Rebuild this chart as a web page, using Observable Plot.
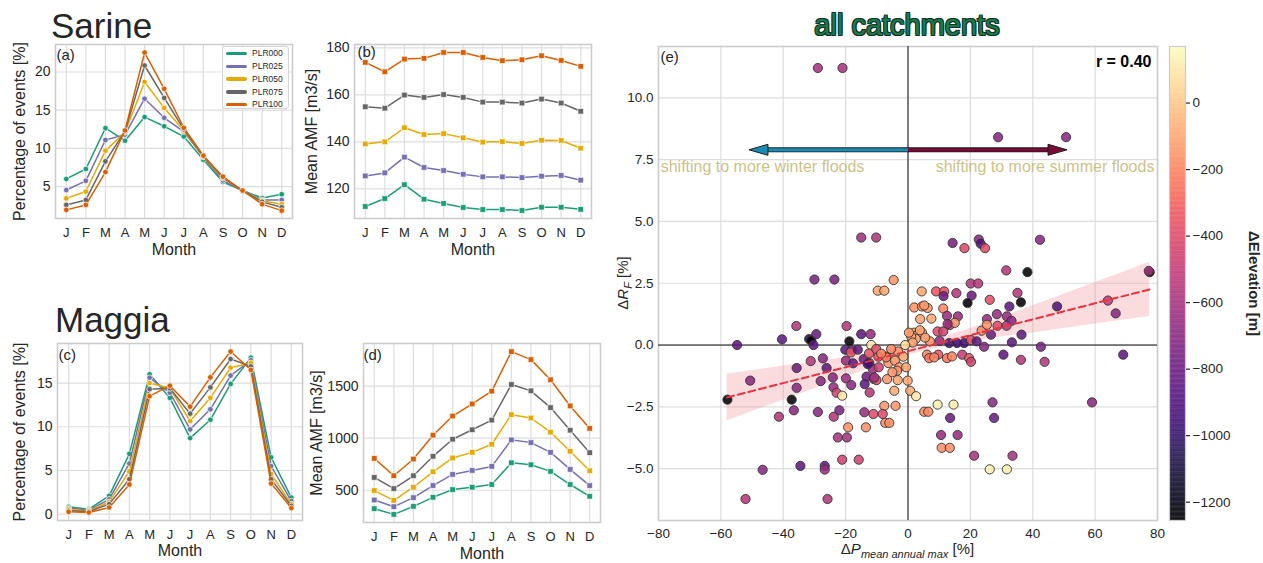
<!DOCTYPE html>
<html><head><meta charset="utf-8">
<script src="https://cdn.jsdelivr.net/npm/d3@7"></script>
<script src="https://cdn.jsdelivr.net/npm/@observablehq/plot@0.6"></script>
<style>
body{margin:0;background:#fff;}
#wrap{position:relative;width:1263px;height:563px;overflow:hidden;font-family:"Liberation Sans",Arial,sans-serif;color:#262626;background:#fff;}
#wrap svg{overflow:visible;}
</style></head><body><div id="wrap"></div>
<script>
// ---------- data ----------
const monthLetters = ["J","F","M","A","M","J","J","A","S","O","N","D"];
const monthIndex = [1,2,3,4,5,6,7,8,9,10,11,12];
const seriesNames = ["PLR000","PLR025","PLR050","PLR075","PLR100"];
const seriesColors = ["#1b9e77","#7570b3","#e6ab02","#666666","#d95f02"];

// (a) Sarine: percentage of events
const sarinePct000 = [6.0, 7.3, 12.65, 11.0, 14.1, 12.9, 11.55, 8.5, 5.6, 4.48, 3.5, 4.0];
const sarinePct025 = [4.55, 5.75, 11.1, 11.8, 16.5, 14.0, 12.2, 8.85, 5.8, 4.48, 3.25, 3.25];
const sarinePct050 = [3.45, 4.35, 9.7, 12.1, 18.7, 15.3, 12.35, 8.95, 6.1, 4.48, 3.15, 2.7];
const sarinePct075 = [2.6, 3.25, 8.3, 12.25, 20.85, 16.6, 12.5, 9.0, 6.2, 4.48, 3.0, 2.3];
const sarinePct100 = [1.95, 2.6, 6.9, 12.35, 22.55, 17.8, 12.7, 9.05, 6.3, 4.48, 2.7, 1.85];

// (b) Sarine: mean AMF
const sarineAmf000 = [112.5, 115.9, 121.8, 115.6, 113.8, 112.1, 111.2, 111.2, 110.8, 112.2, 112.2, 111.3];
const sarineAmf025 = [125.5, 126.8, 133.5, 129.1, 127.8, 126.2, 125.1, 125.1, 124.8, 125.4, 125.7, 123.7];
const sarineAmf050 = [139.1, 140.0, 146.0, 143.1, 143.5, 141.7, 139.9, 140.1, 139.3, 140.7, 140.6, 137.3];
const sarineAmf075 = [154.9, 154.3, 159.9, 158.9, 160.1, 158.9, 156.9, 156.9, 156.5, 158.2, 156.5, 153.0];
const sarineAmf100 = [173.8, 169.8, 175.2, 175.5, 178.0, 178.0, 175.9, 174.5, 174.9, 176.6, 174.6, 172.1];

// (c) Maggia: percentage of events
const maggiaPct000 = [0.85, 0.58, 2.1, 6.9, 16.0, 13.3, 8.7, 10.8, 14.9, 17.9, 6.5, 1.9];
const maggiaPct025 = [0.7, 0.46, 1.7, 5.8, 15.6, 13.9, 9.7, 12.0, 15.85, 17.6, 5.5, 1.5];
const maggiaPct050 = [0.58, 0.38, 1.4, 4.9, 15.0, 14.4, 10.65, 13.3, 16.75, 17.3, 4.6, 1.15];
const maggiaPct075 = [0.4, 0.3, 1.15, 4.0, 14.3, 14.4, 11.5, 14.5, 17.75, 16.9, 4.0, 0.95];
const maggiaPct100 = [0.27, 0.2, 0.77, 3.4, 13.5, 14.7, 12.3, 15.65, 18.6, 16.5, 3.5, 0.7];

// (d) Maggia: mean AMF
const maggiaAmf000 = [323, 268, 345, 432, 506, 529, 555, 764, 745, 681, 555, 442];
const maggiaAmf025 = [406, 342, 429, 545, 652, 690, 729, 984, 958, 864, 700, 545];
const maggiaAmf050 = [497, 403, 529, 677, 810, 864, 942, 1226, 1194, 1058, 874, 687];
const maggiaAmf075 = [623, 516, 639, 826, 990, 1081, 1174, 1516, 1455, 1294, 1077, 861];
const maggiaAmf100 = [806, 639, 800, 1029, 1213, 1329, 1452, 1832, 1755, 1561, 1310, 1094];

// (e) all catchments scatter: ΔP mean annual max [%], ΔR_F [%], ΔElevation [m]
const scatterDP = [
 -28.9,-21.0,28.9,50.7,-15.0,-10.2,14.3,18.1,22.7,23.3,24.7,42.3,-30.0,-23.6,-4.6,-9.7,-7.6,4.4,9.0,11.6,
 11.4,15.5,20.1,22.5,20.4,19.1,26.2,35.1,36.2,31.5,38.3,77.5,77.2,64.1,66.6,47.8,32.5,69.0,59.0,
 2.0,4.5,6.3,5.2,3.9,7.5,11.3,12.5,16.0,13.4,15.0,12.7,9.5,11.3,10.1,7.0,13.2,15.7,18.0,20.2,
 22.0,24.4,23.6,25.3,25.3,28.5,28.7,31.7,33.2,31.6,26.6,36.4,33.3,42.6,43.8,36.2,30.6,
 2.0,3.2,4.5,2.5,1.0,0.3,5.5,3.8,1.5,-0.9,-11.8,
 6.1,6.8,9.7,12.5,14.1,17.4,19.6,20.2,8.4,-0.1,0.7,2.6,9.5,14.6,5.2,6.5,13.5,27.1,27.6,10.6,
 15.9,10.8,13.4,21.2,33.5,26.2,31.7,
 -54.8,-50.6,-57.9,-35.8,-40.4,-31.7,-31.0,-29.4,-30.3,-31.2,
 -27.3,-35.7,-26.1,-35.7,-28.0,-24.1,-23.9,-22.9,-37.3,-36.6,
 -41.4,-28.9,-23.8,-22.0,-21.1,-19.7,-20.1,-18.0,-18.3,-19.9,
 -17.6,-19.9,-18.2,-15.0,-12.0,-18.8,-16.1,-14.2,-12.5,-12.4,
 -11.3,-13.3,-11.0,-12.3,-13.9,-9.5,-9.4,-10.1,-6.9,-6.3,
 -6.7,-3.2,-1.5,-4.2,-2.8,-3.5,-5.4,-7.0,-0.6,-3.3,
 -4.4,-7.6,-4.0,-7.3,-6.0,-19.2,-13.5,-14.0,-11.1,-8.1,
 -22.5,-19.6,-21.1,-15.8,-34.5,-26.7,-26.7,-46.6,-52.1,-25.8,
 -10.2,-12.9,-10.8,-8.6,-5.0
];
const scatterDRF = [
 11.21,11.21,8.41,8.41,4.35,4.35,4.13,3.92,4.27,4.10,3.92,4.26,2.65,2.65,2.63,2.20,2.20,2.17,2.17,2.17,
 1.98,2.10,2.49,2.49,2.00,1.70,1.83,2.11,1.73,3.02,2.95,2.95,3.00,1.80,1.28,1.56,1.56,-0.39,-2.32,
 1.52,1.56,1.50,1.60,1.05,1.07,1.48,1.18,1.16,0.81,0.90,0.85,0.55,0.55,0.17,0.15,0.08,0.08,0.08,0.20,
 0.15,-0.07,0.58,1.05,0.82,1.25,0.78,1.16,0.98,0.78,0.42,0.42,0.11,-0.07,-0.68,-0.60,-0.39,
 0.50,0.43,0.50,0.25,0.35,0.50,0.30,0.60,0.10,0.00,0.00,
 -0.39,-0.53,-0.39,-0.53,-0.46,-0.39,-0.53,-0.68,-0.50,-1.44,-1.85,-2.07,-2.41,-2.41,-2.70,-2.70,-2.95,-2.32,-2.95,-3.64,
 -3.64,-4.16,-4.16,-4.48,-4.48,-5.03,-5.03,
 0.00,-1.44,-2.21,0.77,0.23,0.24,0.18,0.44,0.00,-0.65,
 -0.54,-0.93,-0.93,-1.73,-1.46,-1.31,-1.71,-1.93,-2.21,-2.64,
 -2.90,-2.71,-2.90,-2.64,-2.05,0.77,-0.19,-0.19,-0.30,-0.63,
 -0.74,-1.35,-1.62,0.44,0.44,0.15,-0.19,-0.57,-0.34,-0.73,
 -0.97,-1.28,-1.37,-1.92,-1.58,-0.47,-0.90,-1.42,-0.47,-0.73,
 -1.38,-0.26,-0.47,-0.63,-0.90,-1.04,-0.16,-0.50,-0.90,-1.42,
 -1.85,-2.46,-2.46,-3.15,-3.15,-3.33,-3.33,-2.72,-2.79,-2.79,
 -3.74,-3.74,-4.64,-4.64,-4.89,-4.89,-5.04,-5.05,-6.23,-6.23,
 -0.16,-0.77,-1.31,-0.35,-1.10
];
const scatterDElev = [
 -600,-600,-700,-700,-620,-580,-750,-400,-700,-900,-400,-700,-750,-750,-150,-100,-100,-100,-350,-350,
 -800,-550,-550,-550,-800,-1250,-380,-550,-1250,-550,-1250,-1250,-600,-500,-700,-900,-850,-850,-700,
 -150,-150,-150,-130,-100,-100,-200,-650,-650,-450,-150,-650,-400,-450,-650,-150,-950,-950,-950,-400,
 -850,-700,-200,-650,-150,-650,-400,-650,-700,-550,-800,-850,-850,-750,-550,-550,-850,
 -100,-80,-100,-80,-100,-120,-120,-100,-100,60,100,
 -200,-250,-350,-250,-200,-500,-350,-450,-200,-100,-100,100,120,120,-180,-180,-820,-700,-800,-650,
 -650,-170,-170,-600,-600,120,120,
 -850,-700,-1250,-550,-850,-1050,-1250,-800,-850,-550,
 -700,-800,-850,-700,-700,-700,-650,-450,-1250,-700,
 -550,-700,-550,-750,100,-550,-850,-800,-350,-650,
 -850,-650,-700,-850,-650,-1250,-850,-800,-350,-900,
 -650,-800,-650,-550,-850,-350,-450,-400,-200,-150,
 -150,-150,-100,-150,-150,-150,-200,-200,-100,-100,
 -100,-150,-150,-170,-170,-160,-160,-650,-400,-400,
 -600,-600,-450,-450,-850,-850,-650,-700,-550,-550,
 -400,-950,-600,-200,-150
];

// regression fit and 95% band
const fitDP = [-58, -40, -20, 0, 20, 40, 60, 77.5];
const fitDRF = [-2.12, -1.54, -0.90, -0.25, 0.40, 1.04, 1.69, 2.25];
const bandLow = [-3.07, -2.23, -1.30, -0.42, 0.13, 0.49, 0.85, 1.15];
const bandHigh = [-1.17, -0.85, -0.50, -0.08, 0.67, 1.59, 2.53, 3.35];
const correlationLabel = "r = 0.40";

// arrows + annotations
const arrowTipDP = [-51, 51];
const arrowBaseDP = [-44.9, 44.9];
const arrowDRF = [7.9, 7.9];
const annotationText = ["shifting to more winter floods", "shifting to more summer floods"];
const annotationDP = [-79.3, 79.0];
const annotationDRF = [7.22, 7.22];

const scatterXTicks = [-80, -60, -40, -20, 0, 20, 40, 60, 80];
const scatterYTicks = [-5, -2.5, 0, 2.5, 5, 7.5, 10];
const elevTicks = [0, -200, -400, -600, -800, -1000, -1200];
const elevDomain = [-1255, 170];

// ---------- helpers ----------
const FONT = "Liberation Sans, Arial, sans-serif";
const TXT = "#262626";
const GRID = "#dddddd";
const wrap = document.getElementById("wrap");
function place(el, left, top) {
  el.style.position = "absolute"; el.style.left = left + "px"; el.style.top = top + "px";
  wrap.appendChild(el);
}
const minus = v => (v < 0 ? "\u2212" : "") + Math.abs(v);
function tidy(arrs) {
  return arrs.flatMap((vals, s) => vals.map((v, i) => ({series: seriesNames[s], month: monthIndex[i], value: v})));
}
function linePanel(o) {
  const seriesMarks = seriesNames.flatMap(s => {
    const d = o.data.filter(r => r.series === s);
    return [
      Plot.line(d, {x: "month", y: "value", stroke: "series", strokeWidth: 1.5}),
      Plot.dot(d, {x: "month", y: "value", fill: "series", stroke: "white", strokeWidth: 0.7, r: o.r, symbol: o.symbol})
    ];
  });
  return Plot.plot({
    width: o.w, height: o.h, marginLeft: o.ml, marginRight: o.mr, marginTop: o.mt, marginBottom: o.mb,
    style: {fontFamily: FONT, fontSize: "13px", color: TXT, background: "transparent", overflow: "visible"},
    x: {domain: [0.45, 12.55]},
    y: {domain: o.yDomain},
    color: {domain: seriesNames, range: seriesColors},
    marks: [
      Plot.gridX(monthIndex, {stroke: GRID, strokeOpacity: 1, strokeWidth: 1.2}),
      Plot.gridY(o.yTicks, {stroke: GRID, strokeOpacity: 1, strokeWidth: 1.2}),
      Plot.frame({stroke: "#cccccc", strokeWidth: 1.6}),
      Plot.axisX(monthIndex, {tickSize: 0, tickPadding: 9, tickFormat: i => monthLetters[i - 1], fontSize: 13, label: null}),
      Plot.axisY(o.yTicks, {tickSize: 0, tickPadding: 5, tickFormat: v => String(v), fontSize: 14, label: null}),
      ...seriesMarks,
      Plot.text([o.tag], {text: d => d, frameAnchor: "top-left", textAnchor: "start", lineAnchor: "middle", dx: o.tagDx, dy: o.tagDy, fontSize: 15, fill: TXT}),
      Plot.text(["Month"], {text: d => d, frameAnchor: "bottom", textAnchor: "middle", lineAnchor: "middle", dy: o.monthDy, fontSize: 16, fill: TXT}),
      Plot.text([o.ylabel], {text: d => d, frameAnchor: "left", textAnchor: "middle", lineAnchor: "middle", dx: o.ylabelDx, rotate: -90, fontSize: 16, fill: TXT})
    ]
  });
}

// ---------- panels (a)-(d) ----------
place(linePanel({
  data: tidy([sarinePct000, sarinePct025, sarinePct050, sarinePct075, sarinePct100]),
  w: 310, h: 262, ml: 55, mr: 18, mt: 44, mb: 44, yDomain: [0.82, 23.6], yTicks: [5, 10, 15, 20],
  r: 2.8, symbol: "circle", tag: "(a)", tagDx: 1, tagDy: 11, monthDy: 31, ylabel: "Percentage of events [%]", ylabelDx: -36
}), 0, 0);

place(linePanel({
  data: tidy([sarineAmf000, sarineAmf025, sarineAmf050, sarineAmf075, sarineAmf100]),
  w: 310, h: 262, ml: 54, mr: 19, mt: 44, mb: 44, yDomain: [107.4, 181.4], yTicks: [120, 140, 160, 180],
  r: 3.2, symbol: "square", tag: "(b)", tagDx: 3, tagDy: 8, monthDy: 31, ylabel: "Mean AMF [m3/s]", ylabelDx: -43
}), 300, 0);

place(linePanel({
  data: tidy([maggiaPct000, maggiaPct025, maggiaPct050, maggiaPct075, maggiaPct100]),
  w: 310, h: 272, ml: 57, mr: 8, mt: 53, mb: 42, yDomain: [-0.72, 19.52], yTicks: [0, 5, 10, 15],
  r: 2.8, symbol: "circle", tag: "(c)", tagDx: 1, tagDy: 12, monthDy: 30, ylabel: "Percentage of events [%]", ylabelDx: -38
}), 0, 290);

place(linePanel({
  data: tidy([maggiaAmf000, maggiaAmf025, maggiaAmf050, maggiaAmf075, maggiaAmf100]),
  w: 310, h: 273, ml: 63, mr: 10, mt: 53, mb: 41, yDomain: [190, 1910], yTicks: [500, 1000, 1500],
  r: 3.2, symbol: "square", tag: "(d)", tagDx: 0, tagDy: 12, monthDy: 31, ylabel: "Mean AMF [m3/s]", ylabelDx: -47
}), 300, 290);

// ---------- panel (e) ----------
const points = scatterDP.map((x, i) => ({x, y: scatterDRF[i], e: scatterDElev[i]}));
const fit = fitDP.map((x, i) => ({x, y: fitDRF[i], lo: bandLow[i], hi: bandHigh[i]}));
const arrows = arrowTipDP.map((t, i) => ({tip: t, base: arrowBaseDP[i], y: arrowDRF[i], side: i}));
const annots = annotationText.map((t, i) => ({t, x: annotationDP[i], y: annotationDRF[i], side: i}));
const arrowColors = ["#1a8cb3", "#7b0b36"];
const headLeft = {draw(c) { c.moveTo(0, 0); c.lineTo(19, -5.5); c.lineTo(19, 5.5); c.closePath(); }};
const headRight = {draw(c) { c.moveTo(0, 0); c.lineTo(-19, -5.5); c.lineTo(-19, 5.5); c.closePath(); }};
const colorScale = {type: "linear", domain: elevDomain, scheme: "magma"};
const annotStyle = {x: "x", y: "y", text: "t", lineAnchor: "middle", fontSize: 16, fill: "#c4b46e", fillOpacity: 0.85};

const pE = Plot.plot({
  width: 570, height: 563, marginLeft: 58, marginRight: 13, marginTop: 46, marginBottom: 43,
  style: {fontFamily: FONT, fontSize: "13.5px", color: TXT, background: "transparent", overflow: "visible"},
  x: {domain: [-80, 80]},
  y: {domain: [-7.1, 12.08]},
  color: colorScale,
  marks: [
    Plot.gridX(scatterXTicks, {stroke: GRID, strokeOpacity: 1, strokeWidth: 1.2}),
    Plot.gridY(scatterYTicks, {stroke: GRID, strokeOpacity: 1, strokeWidth: 1.2}),
    Plot.frame({stroke: "#cccccc", strokeWidth: 1.6}),
    Plot.axisX(scatterXTicks, {tickSize: 0, tickPadding: 8, tickFormat: minus, fontSize: 13.5, label: null}),
    Plot.axisY(scatterYTicks, {tickSize: 0, tickPadding: 5, tickFormat: v => (v < 0 ? "\u2212" : "") + Math.abs(v).toFixed(1), fontSize: 13.5, label: null}),
    Plot.areaY(fit, {x: "x", y1: "lo", y2: "hi", fill: "#ef8a95", fillOpacity: 0.3, curve: "monotone-x"}),
    Plot.ruleX([0], {stroke: "#111", strokeWidth: 1}),
    Plot.ruleY([0], {stroke: "#111", strokeWidth: 1}),
    Plot.link(arrows, {x1: 0, x2: "base", y1: "y", y2: "y", stroke: "#1a1a1a", strokeWidth: 5}),
    Plot.link(arrows, {x1: 0, x2: "base", y1: "y", y2: "y", stroke: d => arrowColors[d.side], strokeWidth: 3.2}),
    Plot.dot(arrows.filter(d => d.side === 0), {x: "tip", y: "y", symbol: headLeft, fill: arrowColors[0], stroke: "#1a1a1a", strokeWidth: 1}),
    Plot.dot(arrows.filter(d => d.side === 1), {x: "tip", y: "y", symbol: headRight, fill: arrowColors[1], stroke: "#1a1a1a", strokeWidth: 1}),
    Plot.text(annots.filter(d => d.side === 0), {...annotStyle, textAnchor: "start"}),
    Plot.text(annots.filter(d => d.side === 1), {...annotStyle, textAnchor: "end"}),
    Plot.dot(points, {x: "x", y: "y", fill: "e", r: 4.6, stroke: "#333", strokeWidth: 0.9, fillOpacity: 0.87}),
    Plot.line(fit, {x: "x", y: "y", stroke: "#e8333f", strokeWidth: 2, strokeDasharray: "7,4"}),
    Plot.text(["(e)"], {text: d => d, frameAnchor: "top-left", textAnchor: "start", lineAnchor: "middle", dx: 2, dy: 11, fontSize: 15, fill: TXT}),
    Plot.text([correlationLabel], {text: d => d, frameAnchor: "top-right", textAnchor: "end", lineAnchor: "middle", dx: -6, dy: 15, fontSize: 16, fontWeight: "bold", fill: "#000"})
  ]
});
place(pE, 600, 0);

// ---------- colorbar ----------
const ramp = d3.range(elevDomain[0], elevDomain[1], 5);
const pCB = Plot.plot({
  width: 103, height: 563, marginLeft: 9, marginRight: 78, marginTop: 46, marginBottom: 43,
  style: {fontFamily: FONT, fontSize: "13.5px", color: TXT, background: "transparent", overflow: "visible"},
  x: {domain: [0, 1], axis: null},
  y: {domain: elevDomain, axis: null},
  color: colorScale,
  marks: [
    Plot.rect(ramp, {x1: 0, x2: 1, y1: d => d, y2: d => Math.min(d + 6, elevDomain[1]), fill: d => d + 2.5, fillOpacity: 0.87}),
    Plot.frame({stroke: "#cccccc", strokeWidth: 1.2}),
    Plot.axisY(elevTicks, {anchor: "right", tickSize: 4, tickPadding: 3, tickFormat: minus, fontSize: 13.5, label: null, strokeWidth: 1.2}),
    Plot.text(["\u0394Elevation [m]"], {text: d => d, frameAnchor: "right", textAnchor: "middle", lineAnchor: "middle", dx: 68, rotate: 90, fontSize: 15, fontWeight: "bold", fill: TXT})
  ]
});
place(pCB, 1160, 0);

// ---------- HTML text: titles, legend, panel (e) axis labels ----------
function div(html, css) { const d = document.createElement("div"); d.innerHTML = html; d.style.cssText = css; return d; }
place(div("Sarine", "font-size:35px;line-height:35px;color:#262626;white-space:nowrap"), 51, 8);
place(div("Maggia", "font-size:35px;line-height:35px;color:#262626;white-space:nowrap"), 55, 302);
place(div("all catchments", "font-size:29px;line-height:29px;color:#1b7a4f;white-space:nowrap;width:300px;text-align:center;" +
  "text-shadow:-1px -1px 0 #0d3322,1px -1px 0 #0d3322,-1px 1px 0 #0d3322,1px 1px 0 #0d3322"), 757, 11);

const legend = div("", "width:67px;height:63px;border:1px solid #d5d5d5;border-radius:3px;background:rgba(255,255,255,0.85);box-sizing:border-box");
seriesNames.forEach((s, i) => {
  const row = div(
    `<span style="position:absolute;left:3px;top:4.5px;width:21px;height:3.6px;border-radius:2px;background:${seriesColors[i]}"></span>` +
    `<span style="position:absolute;left:29px;top:0;font-size:8.5px;line-height:12px;color:#262626">${s}</span>`,
    `position:absolute;left:0;top:${0.3 + 12.75 * i}px;width:66px;height:12px`);
  legend.appendChild(row);
});
place(legend, 222, 46);

place(div('\u0394<i>P</i><span style="font-size:11px;font-style:italic;position:relative;top:4px">mean annual max</span> [%]',
  "width:499px;text-align:center;font-size:15px;line-height:15px;color:#262626;white-space:nowrap"), 658, 541);
place(div('\u0394<i>R</i><span style="font-size:11px;font-style:italic;position:relative;top:4px">F</span> [%]',
  "width:200px;height:20px;text-align:center;font-size:15px;line-height:20px;color:#262626;white-space:nowrap;transform:rotate(-90deg)"), 523, 273);
</script>
</body></html>
